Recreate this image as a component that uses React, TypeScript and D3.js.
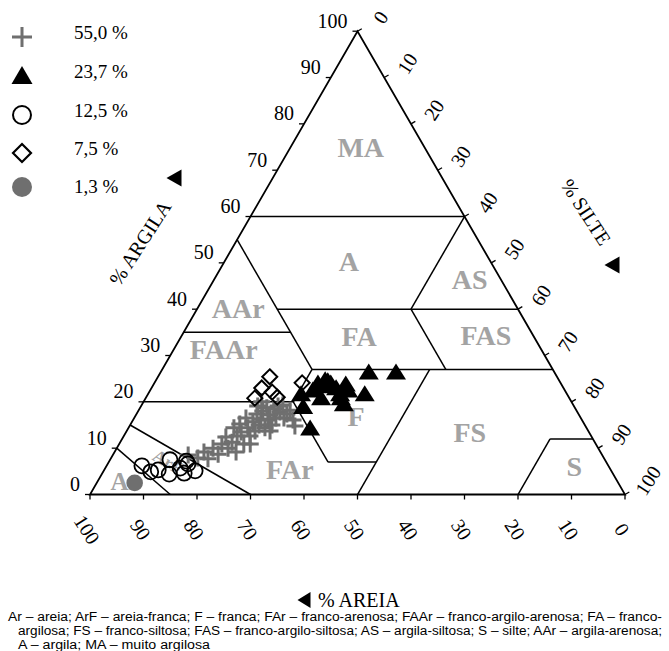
import React from "react";
import * as d3 from "d3";

const WIDTH = 669;
const HEIGHT = 651;

// Triangle geometry (sand = left corner, silt = right corner, clay = apex)
const LEFT_X = 90;
const RIGHT_X = 625;
const BASE_Y = 494.5;
const APEX_Y = 31.2;

const TICKS = d3.range(0, 101, 10);

// Legend
const LEGEND_LABELS = ["55,0 %", "23,7 %", "12,5 %", "7,5 %", "1,3 %"];

// Samples: sand and clay percentages (silt = 100 - sand - clay)
const PLUS_SAND = [77.4, 75.9, 74.1, 74.1, 72.0, 71.7, 69.9, 68.4, 69.2, 67.8, 68.1, 66.2, 64.4, 65.0, 65.8, 62.6, 63.3, 63.8, 61.7, 62.3, 60.1, 60.9, 59.9, 58.7, 60.1, 57.6, 58.7, 57.8, 58.5, 56.4, 57.0, 55.3, 55.6, 54.3, 55.5, 54.5, 53.5, 54.0, 54.3, 64.6, 57.9, 65.9, 59.5, 59.1];
const PLUS_CLAY = [8.5, 7.9, 9.2, 7.7, 10.0, 8.7, 10.9, 12.4, 10.0, 11.3, 9.2, 12.6, 15.2, 13.5, 10.9, 16.5, 14.4, 12.6, 15.7, 13.7, 17.4, 15.0, 16.3, 18.0, 14.4, 18.7, 16.1, 17.2, 15.0, 18.5, 16.5, 19.1, 17.8, 19.3, 16.5, 17.4, 18.2, 16.1, 14.8, 10.9, 20.0, 14.4, 13.7, 19.1];

const TRI_SAND = [34.9, 29.8, 43.9, 45.6, 43.2, 45.1, 40.5, 42.7, 38.0, 49.9, 46.6, 42.9, 43.0, 50.9, 51.9, 43.5, 47.3, 40.7, 42.6];
const TRI_CLAY = [26.0, 26.0, 24.3, 23.6, 23.6, 23.0, 23.4, 22.6, 21.3, 21.3, 20.4, 20.4, 19.1, 18.5, 13.9, 24.1, 22.1, 22.1, 21.3];

const CIRCLE_SAND = [87.2, 86.2, 84.6, 81.3, 83.0, 80.3, 78.4, 80.1, 77.8, 78.4];
const CIRCLE_CLAY = [6.2, 4.9, 5.3, 7.5, 4.4, 5.7, 7.2, 4.6, 5.1, 6.6];

const DIAMOND_SAND = [53.7, 56.4, 54.9, 58.8, 54.5, 48.3];
const DIAMOND_CLAY = [25.4, 23.0, 22.1, 20.8, 21.0, 24.1];

const DOT_SAND = [90.4];
const DOT_CLAY = [2.5];

// Texture class boundaries as [clay, silt] end points
const BOUNDARIES: [number, number][][] = [
  [[60, 0], [60, 40]],
  [[60, 40], [40, 40]],
  [[40, 15], [40, 60]],
  [[55, 0], [27, 28]],
  [[35, 0], [35, 20]],
  [[27, 28], [27, 73]],
  [[40, 40], [27, 53]],
  [[20, 0], [20, 28]],
  [[20, 28], [27, 28]],
  [[20, 28], [7, 41]],
  [[7, 41], [7, 50]],
  [[27, 50], [0, 50]],
  [[12, 80], [12, 88]],
  [[12, 80], [0, 80]],
  [[10, 0], [0, 15]],
  [[15, 0], [0, 30]],
];

// Class names with [sand, clay] anchor for the label
const CLASS_NAMES = ["MA", "A", "AS", "AAr", "FA", "FAS", "FAAr", "F", "FAr", "FS", "S"];
const CLASS_SAND = [11.9, 26.5, 5.9, 52.2, 32.7, 8.8, 59.4, 41.8, 60.0, 22.3, 6.5];
const CLASS_CLAY = [75.0, 50.2, 46.3, 40.2, 34.0, 34.4, 31.2, 16.9, 5.3, 13.4, 6.0];

const FOOTNOTE = [
  "Ar – areia; ArF – areia-franca; F – franca; FAr – franco-arenosa; FAAr – franco-argilo-arenosa; FA – franco-",
  "argilosa; FS – franco-siltosa; FAS – franco-argilo-siltosa; AS – argila-siltosa; S – silte; AAr – argila-arenosa;",
  "A – argila; MA – muito argilosa",
];

const sideScale = d3.scaleLinear().domain([0, 100]).range([LEFT_X, RIGHT_X]);
const clayScale = d3.scaleLinear().domain([0, 100]).range([BASE_Y, APEX_Y]);

function project(sand: number, clay: number): [number, number] {
  const silt = 100 - sand - clay;
  return [sideScale(silt + clay / 2), clayScale(clay)];
}

const SERIF = "'Liberation Serif', 'Times New Roman', serif";
const NARROW = "'Liberation Sans Narrow', 'Arial Narrow', 'Liberation Sans', sans-serif";
const LABEL_GRAY = "#a3a3a3";
const MARK_GRAY = "#6f6f6f";

const plusPath = (s: number) => `M${-s / 2},0H${s / 2}M0,${-s / 2}V${s / 2}`;
const trianglePath = (w: number, h: number) =>
  `M0,${(-2 * h) / 3}L${w / 2},${h / 3}L${-w / 2},${h / 3}Z`;
const diamondPath = (r: number) => `M0,${-r}L${r},0L0,${r}L${-r},0Z`;
const leftArrow = (w: number, h: number) => `M${-w / 2},0L${w / 2},${-h / 2}L${w / 2},${h / 2}Z`;

export default function App() {
  const line = d3.line();
  const outline = line([project(100, 0), project(0, 0), project(0, 100)]) + "Z";

  const zip = (a: number[], b: number[]) => a.map((s, i) => project(s, b[i]));

  return (
    <svg
      width={WIDTH}
      height={HEIGHT}
      style={{ position: "absolute", left: 0, top: 0, background: "#fff" }}
      fontFamily={SERIF}
    >
      {/* class labels */}
      {CLASS_NAMES.map((name, i) => {
        const [x, y] = project(CLASS_SAND[i], CLASS_CLAY[i]);
        return (
          <text key={name} x={x} y={y} textAnchor="middle" dominantBaseline="central"
            fontSize={28} fontWeight="bold" fill={LABEL_GRAY}>{name}</text>
        );
      })}
      {(() => {
        const [x, y] = project(92.1, 2.7);
        return <text x={x} y={y} textAnchor="middle" dominantBaseline="central" fontSize={25}
          fontWeight="bold" fill={LABEL_GRAY}>Ar</text>;
      })()}
      {(() => {
        const [x, y] = project(81.9, 7.0);
        return <text transform={`translate(${x},${y}) rotate(30)`} textAnchor="middle"
          dominantBaseline="central" fontSize={18} fontWeight="bold" fill={LABEL_GRAY}>ArF</text>;
      })()}

      {/* boundaries */}
      <g stroke="#000" strokeWidth={1.5} fill="none">
        {BOUNDARIES.map((seg, i) => (
          <path key={i} d={line(seg.map(([c, t]) => project(100 - c - t, c))) || ""} />
        ))}
        <path d={outline} strokeWidth={1.8} />
      </g>

      {/* ticks */}
      <g stroke="#000" strokeWidth={1.3}>
        {TICKS.map((v) => {
          const [bx, by] = project(v, 0);
          const [lx, ly] = project(100 - v, v);
          const [rx, ry] = project(0, 100 - v);
          return (
            <g key={v}>
              <line x1={bx} y1={by} x2={bx} y2={by + 5} />
              <line x1={lx} y1={ly} x2={lx - 5} y2={ly} />
              <line x1={rx} y1={ry} x2={rx + 4.3} y2={ry - 2.5} />
            </g>
          );
        })}
      </g>

      {/* tick labels */}
      <g fontSize={20} fill="#000">
        {TICKS.map((v) => {
          const [bx] = project(v, 0);
          const [lx, ly] = project(100 - v, v);
          // silt = v on the right edge
          const [rx, ry] = project(0, 100 - v);
          return (
            <g key={v}>
              <text transform={`translate(${bx - 3},${BASE_Y + 35}) rotate(57)`} textAnchor="middle"
                dominantBaseline="central">{v}</text>
              <text x={lx - 10} y={ly - 3.5} textAnchor="end">{v}</text>
              <text transform={`translate(${rx + 23},${ry - 14}) rotate(-57)`} textAnchor="middle"
                dominantBaseline="central">{v}</text>
            </g>
          );
        })}
      </g>

      {/* axis titles */}
      <text transform="translate(140,243) rotate(-57)" textAnchor="middle" dominantBaseline="central"
        fontSize={20}>% ARGILA</text>
      <path d={leftArrow(15, 17)} transform="translate(174,178)" fill="#000" />
      <text transform="translate(586,212) rotate(57)" textAnchor="middle" dominantBaseline="central"
        fontSize={20}>% SILTE</text>
      <path d={leftArrow(15, 17)} transform="translate(612,265)" fill="#000" />
      <path d={leftArrow(13, 16)} transform="translate(304,600)" fill="#000" />
      <text x={318} y={607} fontSize={20}>% AREIA</text>

      {/* samples */}
      <g stroke={MARK_GRAY} strokeWidth={3} fill="none">
        {zip(PLUS_SAND, PLUS_CLAY).map(([x, y], i) => (
          <path key={i} d={plusPath(17)} transform={`translate(${x},${y})`} />
        ))}
      </g>
      <g fill="#000">
        {zip(TRI_SAND, TRI_CLAY).map(([x, y], i) => (
          <path key={i} d={trianglePath(20, 16)} transform={`translate(${x},${y})`} />
        ))}
      </g>
      <g stroke="#000" strokeWidth={1.8} fill="none">
        {zip(CIRCLE_SAND, CIRCLE_CLAY).map(([x, y], i) => (
          <circle key={i} cx={x} cy={y} r={7.5} />
        ))}
      </g>
      <g stroke="#000" strokeWidth={2} fill="none">
        {zip(DIAMOND_SAND, DIAMOND_CLAY).map(([x, y], i) => (
          <path key={i} d={diamondPath(7.5)} transform={`translate(${x},${y})`} />
        ))}
      </g>
      <g fill={MARK_GRAY}>
        {zip(DOT_SAND, DOT_CLAY).map(([x, y], i) => (
          <circle key={i} cx={x} cy={y} r={8.3} />
        ))}
      </g>

      {/* legend */}
      <g>
        <path d={plusPath(20)} transform="translate(22,37)" stroke={MARK_GRAY} strokeWidth={3} />
        <path d={trianglePath(21, 18)} transform="translate(22,78)" fill="#000" />
        <circle cx={22} cy={115} r={9} stroke="#000" strokeWidth={2} fill="none" />
        <path d={diamondPath(9)} transform="translate(22,153)" stroke="#000" strokeWidth={2.2} fill="none" />
        <circle cx={22} cy={187} r={10} fill={MARK_GRAY} />
        {LEGEND_LABELS.map((t, i) => (
          <text key={t} x={74} y={[38.5, 78, 116.5, 155, 193][i]} fontSize={19}>{t}</text>
        ))}
      </g>

      {/* footnote */}
      <g fontFamily={NARROW} fontSize={12} fill="#000">
        <text x={8} y={621} textLength={654} lengthAdjust="spacingAndGlyphs">{FOOTNOTE[0]}</text>
        <text x={18} y={635} textLength={644} lengthAdjust="spacingAndGlyphs">{FOOTNOTE[1]}</text>
        <text x={18} y={649} textLength={192} lengthAdjust="spacingAndGlyphs">{FOOTNOTE[2]}</text>
      </g>
    </svg>
  );
}
